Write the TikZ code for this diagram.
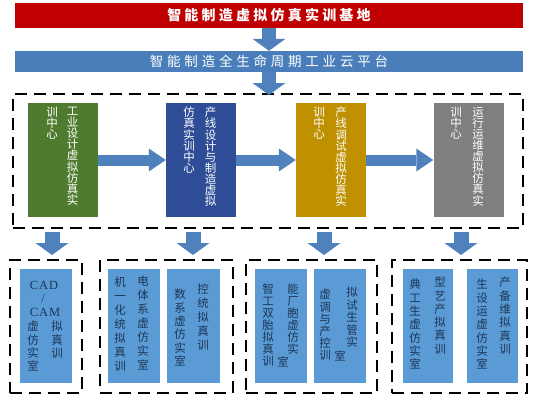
\documentclass[tikz,border=0pt]{standalone}
\usepackage{fontspec}
\usetikzlibrary{arrows.meta}
\newfontfamily\cjk{Noto Sans CJK SC}
\newfontfamily\cjkla[LetterSpace=23]{Noto Sans CJK SC}
\newfontfamily\cjklb[LetterSpace=28]{Noto Sans CJK SC}
\newfontfamily\serifls[LetterSpace=8]{Liberation Serif}
\definecolor{cred}{HTML}{C00000}
\definecolor{cbar}{HTML}{4A7EBB}
\definecolor{carrow}{HTML}{4F81BD}
\definecolor{cgreen}{HTML}{4F7B2E}
\definecolor{cdblue}{HTML}{2E4D96}
\definecolor{cgold}{HTML}{BF9000}
\definecolor{cgray}{HTML}{7F7F7F}
\definecolor{clb}{HTML}{5B9BD5}
\definecolor{cnavy}{HTML}{1C3556}
\tikzset{
  banner/.style={minimum width=508pt, inner sep=0pt, text=white},
  midbox/.style={minimum width=70pt, minimum height=114pt, inner sep=0pt},
  botbox/.style={fill=clb, minimum height=114pt, inner sep=0pt},
  dashbox/.style={draw=black, line width=2pt, dash pattern=on 12pt off 7pt, inner sep=0pt},
  colbase/.style={inner sep=0pt, align=center, anchor=north},
  mcol/.style={colbase, text=white, font=\cjk\fontsize{11.5}{11.1}\selectfont},
  bcol/.style={colbase, text=cnavy, font=\cjk\fontsize{11.5}{#1}\selectfont},
  bcol/.default=13.3,
  bchar/.style={inner sep=0pt, text=cnavy, font=\cjk\fontsize{11.5}{11.5}\selectfont},
  latin/.style={inner sep=0pt, text=cnavy, font=\serifls\fontsize{12.5}{12.5}\selectfont},
  varrow/.style={draw=carrow, line width=14pt, -{Triangle[width=33pt,length=12pt,line width=0pt]}},
  darrow/.style={draw=carrow, line width=15pt, -{Triangle[width=33pt,length=12pt,line width=0pt]}},
  harrow/.style={draw=carrow, line width=11pt, -{Triangle[width=23pt,length=17pt,line width=0pt]}},
}
\begin{document}
\begin{tikzpicture}[x=1pt,y=-1pt]
\useasboundingbox (0,0) rectangle (536,400);
% top banners
\node[banner, fill=cred, minimum height=25pt, font=\cjkla\bfseries\fontsize{14}{14}\selectfont] (base) at (269,15.5) {智能制造虚拟仿真实训基地};
\node[banner, fill=cbar, minimum height=21pt, font=\cjklb\fontsize{13.5}{13.5}\selectfont] (cloud) at (269,61.5) {智能制造全生命周期工业云平台};
\draw[varrow] (base.south) -- (cloud.north);
% big dashed box
\node[dashbox, minimum width=510pt, minimum height=134pt] (big) at (268,161) {};
\draw[varrow] (cloud.south) -- ([yshift=-2pt]big.north -| cloud.south);
% middle boxes
\node[midbox, fill=cgreen] (m1) at (63,160) {};
\node[midbox, fill=cdblue] (m2) at (201,160) {};
\node[midbox, fill=cgold] (m3) at (331,160) {};
\node[midbox, fill=cgray] (m4) at (468.5,160) {};
\node[mcol] (m1r) at (72.5,107) {工\\业\\设\\计\\虚\\拟\\仿\\真\\实};
\node[mcol] (m1l) at (52,107) {训\\中\\心};
\node[mcol] (m2r) at (210.5,107) {产\\线\\设\\计\\与\\制\\造\\虚\\拟};
\node[mcol] (m2l) at (189,107) {仿\\真\\实\\训\\中\\心};
\node[mcol] (m3r) at (341,107) {产\\线\\调\\试\\虚\\拟\\仿\\真\\实};
\node[mcol] (m3l) at (319,107) {训\\中\\心};
\node[mcol] (m4r) at (478,107) {运\\行\\运\\维\\虚\\拟\\仿\\真\\实};
\node[mcol] (m4l) at (456,107) {训\\中\\心};
\draw[harrow] (m1.east) -- (m2.west);
\draw[harrow] (m2.east) -- (m3.west);
\draw[harrow] (m3.east) -- (m4.west);
% down arrows
\coordinate (d1s) at (52,232);   \coordinate (d1e) at (52,255);
\coordinate (d2s) at (193,232);  \coordinate (d2e) at (193,255);
\coordinate (d3s) at (324,232);  \coordinate (d3e) at (324,255);
\coordinate (d4s) at (461,232);  \coordinate (d4e) at (461,255);
\draw[darrow] (d1s) -- (d1e);
\draw[darrow] (d2s) -- (d2e);
\draw[darrow] (d3s) -- (d3e);
\draw[darrow] (d4s) -- (d4e);
% bottom groups
\node[dashbox, minimum width=72pt, minimum height=133pt] (g1) at (46,326.5) {};
\node[dashbox, minimum width=133pt, minimum height=133pt] (g2) at (166.5,326.5) {};
\node[dashbox, minimum width=131pt, minimum height=133pt] (g3) at (311.5,326.5) {};
\node[dashbox, minimum width=135pt, minimum height=133pt] (g4) at (459.5,326.5) {};
\node[botbox, minimum width=52pt] (b1) at (46,326) {};
\node[botbox, minimum width=52pt] (b2a) at (134,326) {};
\node[botbox, minimum width=53pt] (b2b) at (193.5,326) {};
\node[botbox, minimum width=52pt] (b3a) at (281,326) {};
\node[botbox, minimum width=52pt] (b3b) at (340,326) {};
\node[botbox, minimum width=50pt] (b4a) at (428,326) {};
\node[botbox, minimum width=51pt] (b4b) at (492.5,326) {};
% bottom texts
\node[latin] (t1a) at (44,285) {CAD};
\node[latin] (t1b) at (43,298.5) {/};
\node[latin] (t1c) at (45,312) {CAM};
\node[bcol] (t1l) at (33,321) {虚\\仿\\实\\室};
\node[bcol] (t1r) at (57,321) {拟\\真\\训};
\node[bcol=14] (t2al) at (120,277) {机\\一\\化\\统\\拟\\真\\训};
\node[bcol=14] (t2ar) at (143,275.5) {电\\体\\系\\虚\\仿\\实\\室};
\node[bcol=13.3] (t2bl) at (180,289) {数\\系\\虚\\仿\\实\\室};
\node[bcol=13.8] (t2br) at (203,284) {控\\统\\拟\\真\\训};
\node[bcol=12] (t3al) at (268,284) {智\\工\\双\\胎\\拟\\真\\训};
\node[bcol=12] (t3ar) at (293,284) {能\\厂\\胞\\虚\\仿\\实};
\node[bchar] (t3as) at (283,362) {室};
\node[bcol=12.2] (t3bl) at (325,289) {虚\\调\\与\\产\\控\\训};
\node[bcol=12.5] (t3br) at (352,287) {拟\\试\\生\\管\\实};
\node[bchar] (t3bs) at (340,356) {室};
\node[bcol] (t4al) at (415,279) {典\\工\\生\\虚\\仿\\实\\室};
\node[bcol] (t4ar) at (440,277) {型\\艺\\产\\拟\\真\\训};
\node[bcol] (t4bl) at (482,279) {生\\设\\运\\虚\\仿\\实\\室};
\node[bcol] (t4br) at (505,277) {产\\备\\维\\拟\\真\\训};
\end{tikzpicture}
\end{document}
